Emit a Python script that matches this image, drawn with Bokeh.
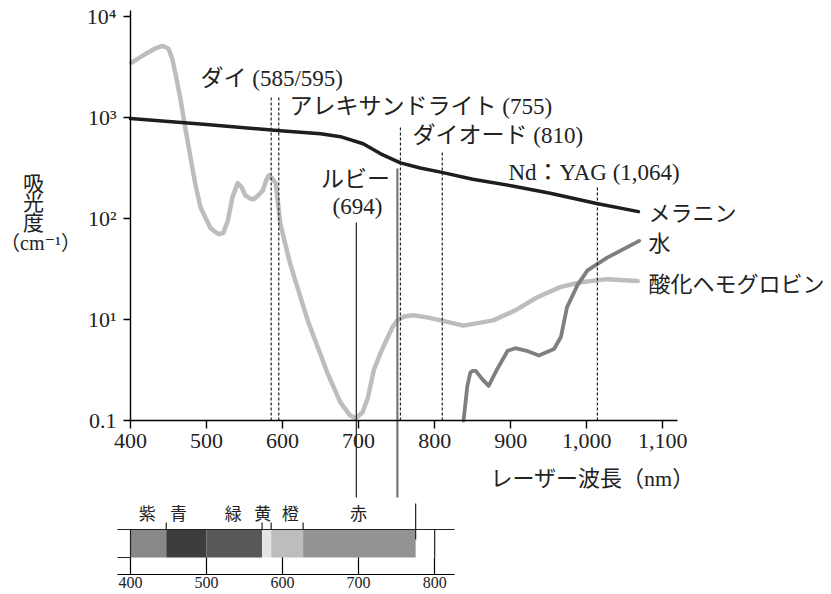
from bokeh.plotting import figure
from bokeh.models import (Range1d, LinearAxis, LogAxis, FixedTicker,
                          CustomJSTickFormatter, NumeralTickFormatter)
from bokeh.core.properties import value
from bokeh.embed import file_html
from bokeh.resources import INLINE

# ---------------- data ----------------
mel_nm = [400, 500, 597, 650, 676, 706, 729, 755, 781, 808, 850, 904, 952, 1013, 1068]
mel_abs = [977, 851, 741, 692, 646, 550, 437, 355, 316, 288, 245, 209, 178, 141, 117]

hb_nm = [401, 420, 432, 442, 450, 455, 459, 466, 472, 479,
         485, 492, 499, 505, 511, 516, 522, 528, 534, 541,
         546, 551, 557, 562, 568, 574, 579, 582, 586, 591,
         597, 610, 633, 659, 676, 689, 696, 705, 712, 720,
         729, 738, 745, 751, 760, 772, 790, 808, 838, 877,
         906, 935, 965, 992, 1027, 1067]
hb_abs = [3470, 4270, 4800, 5130, 4790, 3800, 2750, 1480, 794, 398,
          224, 129, 100, 81, 74, 70, 72, 95, 162, 224,
          205, 169, 158, 155, 170, 190, 245, 268, 250, 224,
          89, 35.5, 9.8, 2.95, 1.51, 1.12, 1.05, 1.20, 1.66, 3.16,
          4.7, 6.6, 8.5, 9.8, 10.7, 11.0, 10.5, 9.8, 8.7, 9.8,
          12.3, 16.6, 20.9, 23.4, 25.1, 24.0]

water_nm = [838, 843, 847, 850, 854, 862, 871, 882, 896, 906, 921, 937, 957, 966, 974, 988, 1001, 1027, 1069]
water_abs = [1.0, 2.2, 3.0, 3.1, 3.1, 2.6, 2.2, 3.2, 4.9, 5.2, 4.9, 4.4, 5.1, 6.7, 13.2, 22, 30.6, 41, 60]

series_labels = ["メラニン", "水", "酸化ヘモグロビン"]

laser_line_nm = [585, 595, 755, 810, 1014]          # dashed lines as drawn
laser_texts = ["ダイ (585/595)", "アレキサンドライト (755)", "ダイオード (810)", "Nd：YAG (1,064)"]
ruby_nm = 697
alex_nm = 751
ruby_texts = ["ルビー", "(694)"]

x_ticks = [400, 500, 600, 700, 800, 900, 1000, 1100]
y_ticks = [1, 10, 100, 1000, 10000]
y_tick_labels = ["0.1", "10¹", "10²", "10³", "10⁴"]
y_label_chars = ["吸", "光", "度"]
y_label_unit = "（cm⁻¹）"
x_label = "レーザー波長（nm）"

band_names = ["紫", "青", "緑", "黄", "橙", "赤"]
band_start = [400, 447, 500, 573, 585, 627]
band_end = [447, 500, 573, 585, 627, 775]
band_label_nm = [422, 463, 535, 574, 610, 700]
band_colors = ["#888888", "#3d3d3d", "#58585a", "#e4e4e4", "#bdbdbf", "#939395"]
band_marks = [447, 573, 585, 627]
spec_ticks = [400, 500, 600, 700, 800]
red_end = 775

# ---------------- layout helpers (pixel -> data) ----------------
KX = 0.7604          # px per nm
def nm_at(px):
    return 400 + (px - 130) / KX

def val_at(py):
    return 10 ** ((420 - py) / 101.0)

SERIF = "'Liberation Serif', 'DejaVu Serif'"
MIX = "'Liberation Serif', 'DejaVu Serif', 'Noto Sans CJK JP'"
JP = "'Noto Sans CJK JP'"

W, H = 831, 594
p = figure(width=W, height=H, title=None,
           x_range=Range1d(nm_at(0), nm_at(W)),
           y_range=Range1d(val_at(H), val_at(0)),
           y_axis_type="log", x_axis_location=None, y_axis_location=None,
           min_border=0, toolbar_location=None, output_backend="svg",
           outline_line_color=None, background_fill_color="white",
           border_fill_color="white")
p.grid.visible = False

# ---------------- axes ----------------
xa = LinearAxis(fixed_location=1, bounds=(400, nm_at(677)),
                ticker=FixedTicker(ticks=x_ticks),
                formatter=NumeralTickFormatter(format="0,0"))
xa.major_tick_out = 8
xa.major_tick_in = 0
xa.minor_tick_out = 0
xa.minor_tick_in = 0
xa.axis_line_width = 1.4
xa.major_tick_line_width = 1.4
xa.major_label_text_font = SERIF
xa.major_label_text_font_size = "22px"
xa.major_label_text_color = "#222222"
xa.major_label_standoff = 5
p.add_layout(xa, "below")

ya = LogAxis(fixed_location=400, bounds=(1, val_at(10)),
             ticker=FixedTicker(ticks=y_ticks),
             formatter=CustomJSTickFormatter(args=dict(vals=y_ticks, labs=y_tick_labels), code="""
const i = vals.findIndex((v) => Math.abs(v - tick) <= 1e-6 * v);
return i >= 0 ? labs[i] : "";
"""))
ya.major_tick_out = 7
ya.major_tick_in = 0
ya.minor_tick_out = 0
ya.minor_tick_in = 0
ya.axis_line_width = 1.4
ya.major_tick_line_width = 1.4
ya.major_label_text_font = SERIF
ya.major_label_text_font_size = "22px"
ya.major_label_text_color = "#222222"
ya.major_label_standoff = 7
p.add_layout(ya, "left")

# ---------------- curves ----------------
p.line(hb_nm, hb_abs, line_color="#bdbdbd", line_width=4.5, line_join="round", line_cap="round")
p.line(water_nm, water_abs, line_color="#7f7f7f", line_width=3.8, line_join="round", line_cap="round")
p.line(mel_nm, mel_abs, line_color="#1e1e1e", line_width=3.5, line_join="round", line_cap="round")

# series labels at right end
p.text(x=[nm_at(648)] * 3, y=[val_at(210), val_at(240), val_at(281)], text=series_labels,
       text_font=value(JP), text_font_size="22px", text_color="#222222",
       text_align="left", text_baseline="middle")

# ---------------- laser lines ----------------
dash_tops = [val_at(97), val_at(97), val_at(127), val_at(152), val_at(187)]
p.segment(x0=laser_line_nm, y0=[1] * 5, x1=laser_line_nm, y1=dash_tops,
          line_color="#222222", line_width=1.2, line_dash="3 2")

p.segment(x0=[ruby_nm], y0=[val_at(222)], x1=[ruby_nm], y1=[val_at(497)],
          line_color="#333333", line_width=1.3)
p.segment(x0=[alex_nm], y0=[val_at(168)], x1=[alex_nm], y1=[val_at(497)],
          line_color="#777777", line_width=2.2)

p.text(x=[nm_at(200), nm_at(289), nm_at(412), nm_at(508)],
       y=[val_at(78), val_at(106), val_at(135), val_at(172)], text=laser_texts,
       text_font=value(MIX), text_font_size="23px", text_color="#222222",
       text_align="left", text_baseline="middle")
p.text(x=[nm_at(355), nm_at(357)], y=[val_at(179), val_at(206)], text=ruby_texts,
       text_font=value(MIX), text_font_size="23px", text_color="#222222",
       text_align="center", text_baseline="middle")

# axis titles
p.text(x=[nm_at(490)], y=[val_at(478)], text=[x_label],
       text_font=value(MIX), text_font_size="22px", text_color="#222222",
       text_align="left", text_baseline="middle")
p.text(x=[nm_at(33)] * 3, y=[val_at(181), val_at(200), val_at(220)], text=y_label_chars,
       text_font=value(JP), text_font_size="21px", text_color="#222222",
       text_align="center", text_baseline="middle")
p.text(x=[nm_at(40)], y=[val_at(242)], text=[y_label_unit],
       text_font=value(MIX), text_font_size="20px", text_color="#222222",
       text_align="center", text_baseline="middle")

# ---------------- visible spectrum ----------------
SP_LABEL, SP_TOP, SP_BOT, SP_AXIS = 512, 529, 557, 574
p.quad(left=band_start, right=band_end, bottom=val_at(SP_BOT), top=val_at(SP_TOP),
       fill_color=band_colors, line_color=None)
p.segment(x0=[nm_at(117)], y0=[val_at(SP_TOP)], x1=[nm_at(454)], y1=[val_at(SP_TOP)],
          line_color="#222222", line_width=1.2)
p.segment(x0=[nm_at(117)], y0=[val_at(SP_BOT)], x1=[400], y1=[val_at(SP_BOT)],
          line_color="#222222", line_width=1.2)
p.segment(x0=[400, 800], y0=[val_at(SP_TOP)] * 2, x1=[400, 800], y1=[val_at(SP_BOT)] * 2,
          line_color="#222222", line_width=1.2)
p.segment(x0=band_marks, y0=[val_at(SP_TOP - 7)] * len(band_marks),
          x1=band_marks, y1=[val_at(SP_TOP)] * len(band_marks),
          line_color="#222222", line_width=1.2)
p.segment(x0=[red_end], y0=[val_at(503)], x1=[red_end], y1=[val_at(539)],
          line_color="#222222", line_width=1.2)
p.text(x=band_label_nm, y=[val_at(SP_LABEL)] * len(band_names), text=band_names,
       text_font=value(JP), text_font_size="17px", text_color="#222222",
       text_align="center", text_baseline="middle")

sa = LinearAxis(fixed_location=val_at(SP_AXIS), bounds=(nm_at(117), nm_at(454)),
                ticker=FixedTicker(ticks=spec_ticks))
sa.major_tick_in = SP_AXIS - SP_BOT
sa.major_tick_out = 0
sa.minor_tick_out = 0
sa.minor_tick_in = 0
sa.axis_line_width = 1.2
sa.major_tick_line_width = 1.2
sa.major_label_text_font = SERIF
sa.major_label_text_font_size = "16px"
sa.major_label_text_color = "#222222"
sa.major_label_standoff = 2
p.add_layout(sa, "below")

open("out.html", "w").write(file_html(p, INLINE))
